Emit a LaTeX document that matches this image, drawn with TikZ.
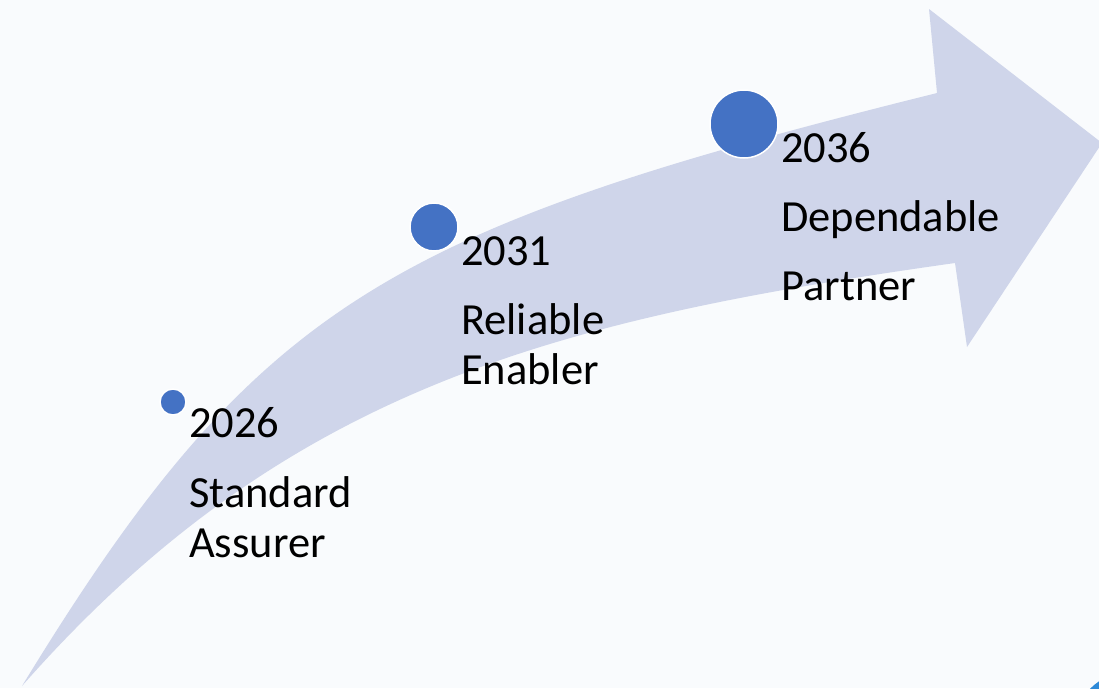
\documentclass[tikz,border=0pt]{standalone}
\usepackage{fontspec}
\setmainfont{Carlito}
\definecolor{bgc}{HTML}{F9FBFD}
\definecolor{band}{HTML}{CFD5EA}
\definecolor{dotblue}{HTML}{4472C4}
\definecolor{cornerblue}{HTML}{2E8AD8}
\begin{document}
\begin{tikzpicture}[x=1pt,y=-1pt,
  dot/.style={circle, fill=dotblue, draw=white, line width=1.5pt, inner sep=0pt},
  lbl/.style={anchor=base west, inner sep=0pt, font=\fontsize{44.5}{50}\selectfont, text=black}]
\useasboundingbox (0,0) rectangle (1099,688);
\clip (0,0) rectangle (1099,688);
\fill[bgc] (0,0) rectangle (1099,688);
% curved arrow band
\fill[band] (22,686) .. controls (256,303) and (387,230) .. (937,93)
  -- (929,9) -- (1102,143) -- (967,347) -- (955,263)
  .. controls (559,319) and (286,386) .. (22,686)
  -- cycle;
% corner fragment
\fill[cornerblue] (1130,728) circle (56);
% milestone dots
\node[dot, minimum size=26pt] (d1) at (173,402) {};
\node[dot, minimum size=48pt] (d2) at (434,227) {};
\node[dot, minimum size=68pt] (d3) at (744,124) {};
% labels
\node[lbl] (y1) at (189,437) {2026};
\node[lbl] (t1a) at (189,507) {Standard};
\node[lbl] (t1b) at (189,557) {Assurer};
\node[lbl] (y2) at (461,265) {2031};
\node[lbl] (t2a) at (461,334) {Reliable};
\node[lbl] (t2b) at (461,384) {Enabler};
\node[lbl] (y3) at (781,162) {2036};
\node[lbl] (t3a) at (781,231) {Dependable};
\node[lbl] (t3b) at (781,300) {Partner};
\end{tikzpicture}
\end{document}
